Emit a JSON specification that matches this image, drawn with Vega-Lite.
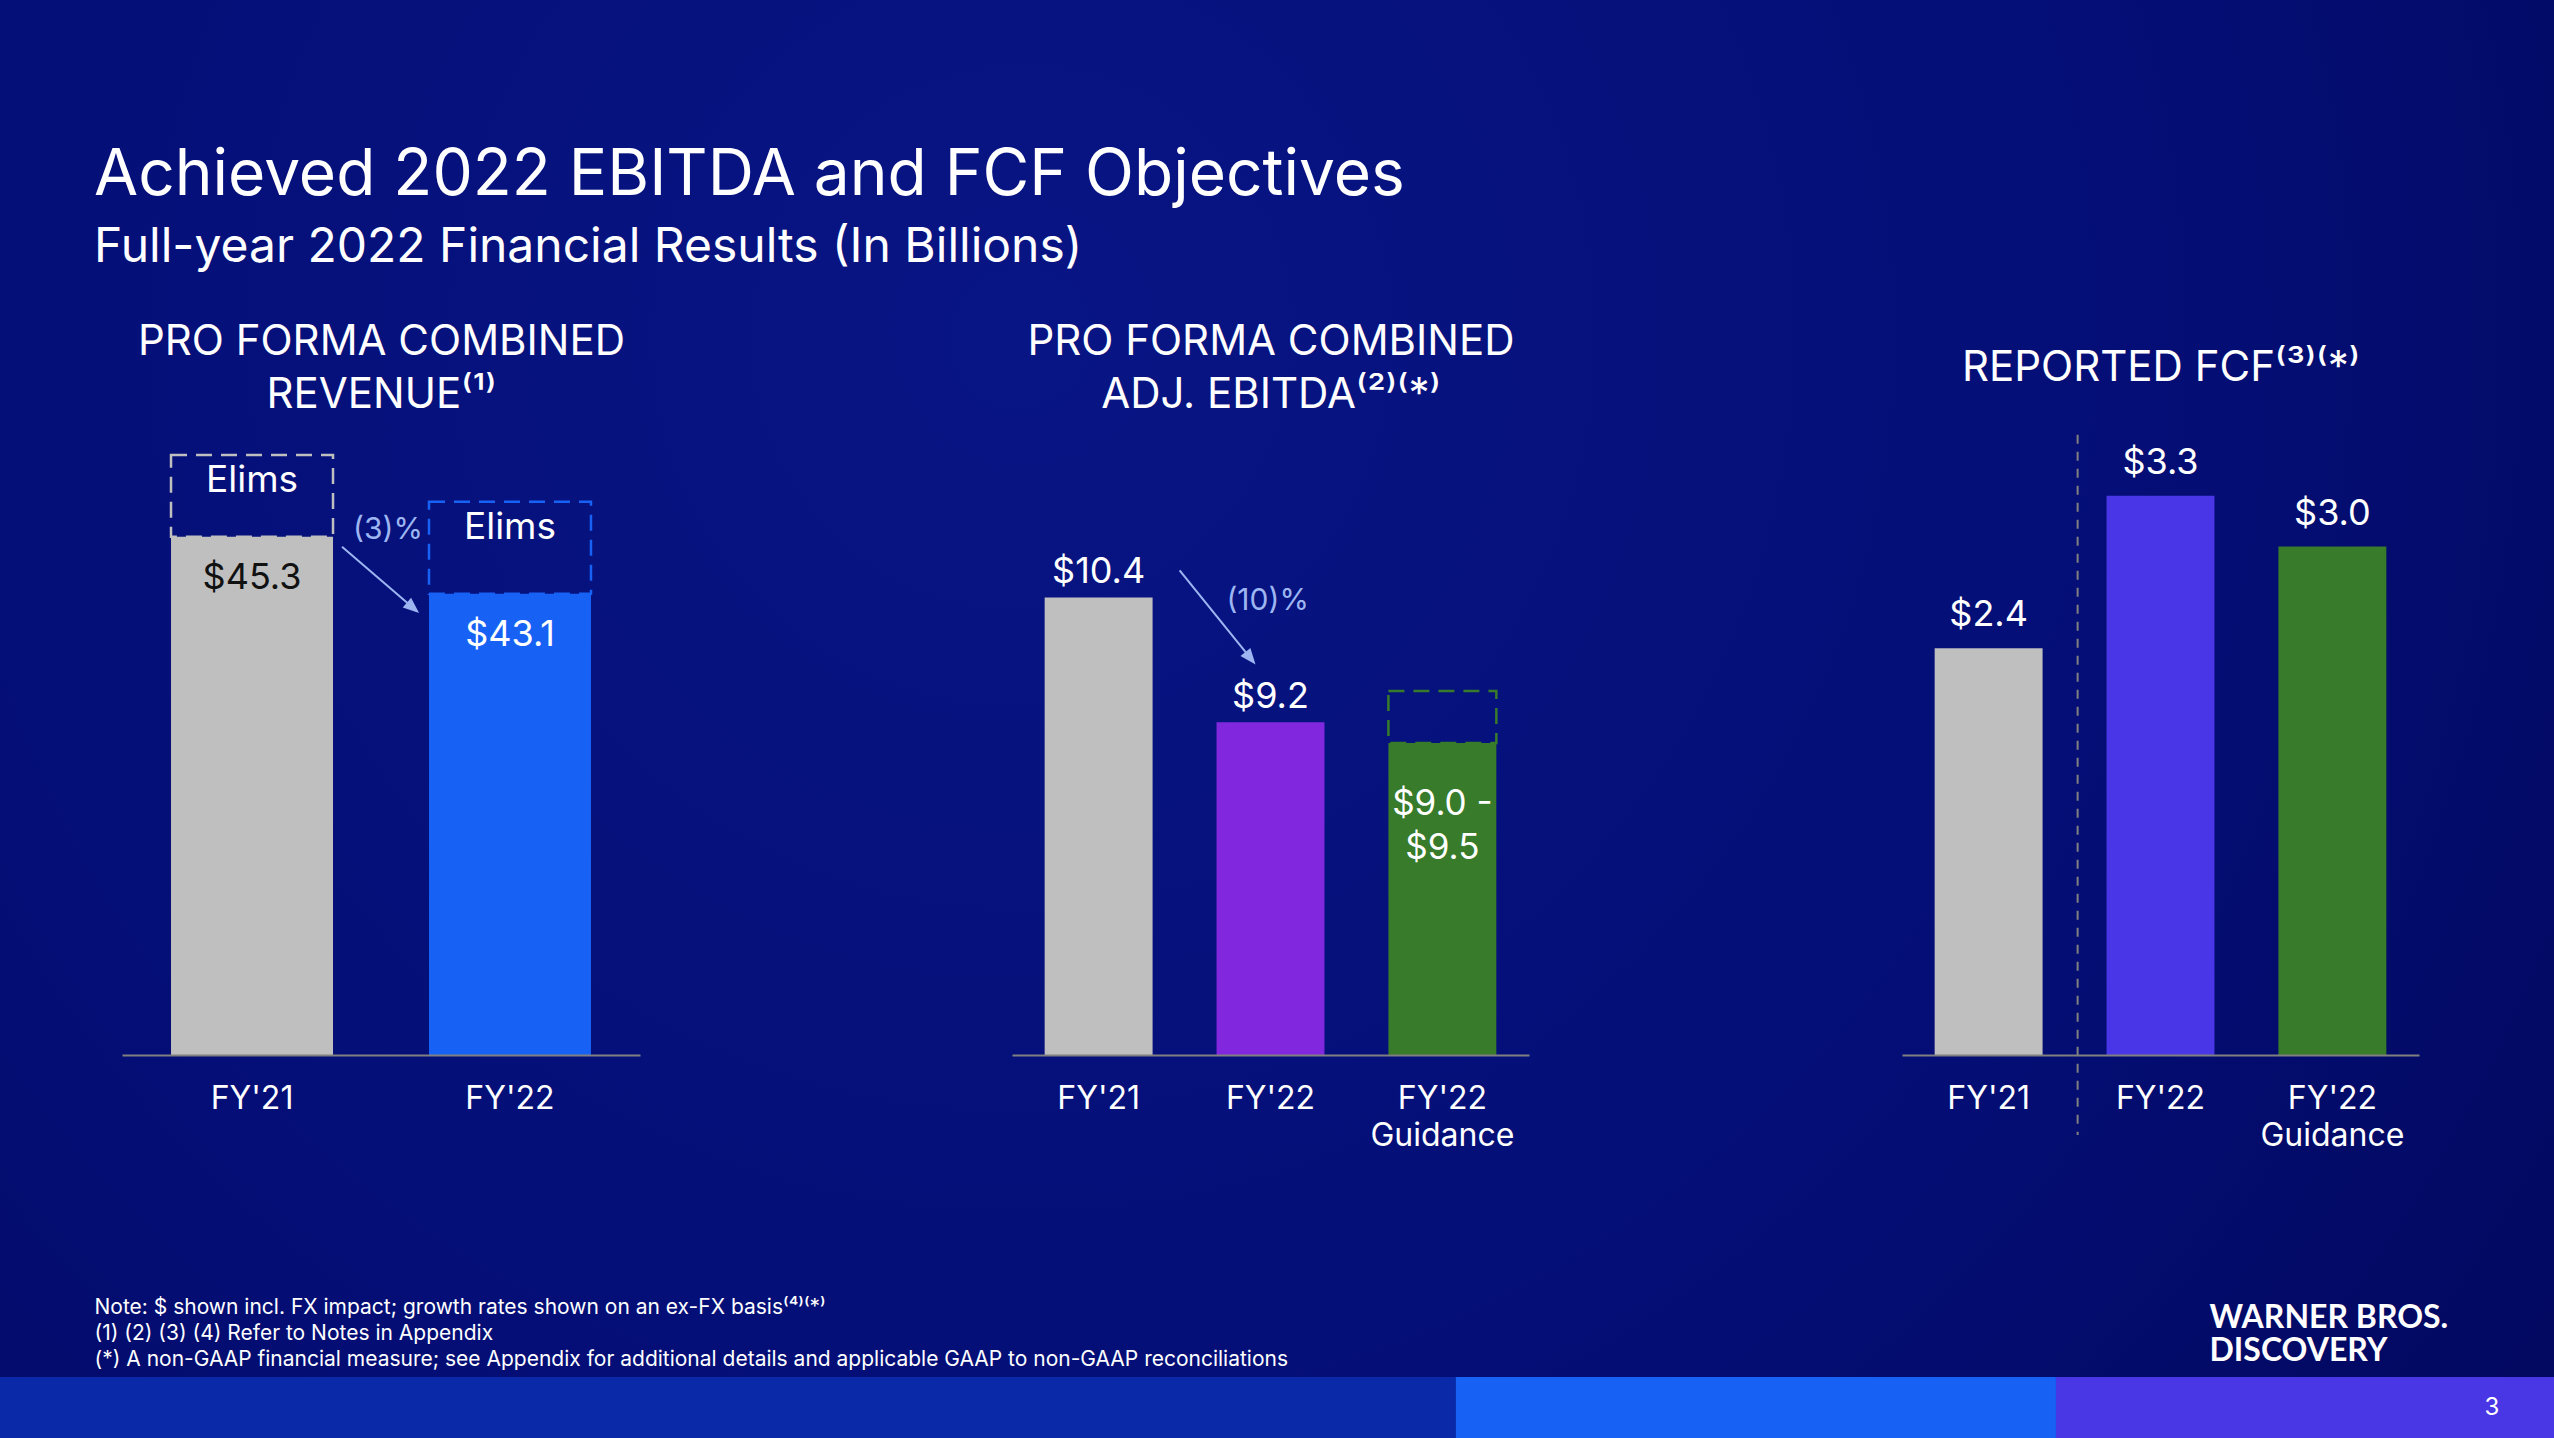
{
  "$schema": "https://vega.github.io/schema/vega-lite/v6.json",
  "width": 2554,
  "height": 1438,
  "autosize": {"type": "fit", "contains": "padding"},
  "padding": 0,
  "background": "#030a6b",
  "config": {
    "font": "Inter",
    "view": {"stroke": null},
    "axis": {"grid": false, "labelFont": "Inter", "titleFont": "Inter"}
  },
  "title": {
    "text": "Achieved 2022 EBITDA and FCF Objectives",
    "subtitle": "Full-year 2022 Financial Results (In Billions)",
    "anchor": "start",
    "frame": "group",
    "orient": "top",
    "offset": -272,
    "dx": 94,
    "font": "Inter",
    "fontSize": 64,
    "fontWeight": "normal",
    "color": "#ffffff",
    "subtitleFont": "Inter",
    "subtitleFontSize": 48,
    "subtitleColor": "#ffffff",
    "subtitlePadding": 16
  },
  "datasets": {
    "canvas": [{"slide": 3}],
    "revenue": [
      {"cat": "FY'21", "value": 45.3, "gross": 48.46, "label": "$45.3"},
      {"cat": "FY'22", "value": 43.1, "gross": 46.65, "label": "$43.1"}
    ],
    "revenueChange": [
      {"from": "FY'21", "to": "FY'22", "from_value": 45.3, "to_value": 43.1, "change": "(3)%"}
    ],
    "ebitda": [
      {"cat": "FY'21", "value": 10.4, "label": "$10.4"},
      {"cat": "FY'22", "value": 9.2, "label": "$9.2"},
      {"cat": "FY'22 Guidance", "value": 9.0, "high": 9.5, "label": "$9.0 -\n$9.5"}
    ],
    "ebitdaChange": [
      {"from": "FY'21", "to": "FY'22", "from_value": 10.4, "to_value": 9.2, "change": "(10)%"}
    ],
    "fcf": [
      {"cat": "FY'21", "value": 2.4, "label": "$2.4"},
      {"cat": "FY'22", "value": 3.3, "label": "$3.3"},
      {"cat": "FY'22 Guidance", "value": 3.0, "label": "$3.0"}
    ],
    "footer": [
      {"page": "3", "segment": "1", "share": 57.0},
      {"page": "3", "segment": "2", "share": 23.5},
      {"page": "3", "segment": "3", "share": 19.5}
    ]
  },
  "layer": [
    {
      "data": {"name": "canvas"},
      "mark": {
        "type": "rect",
        "fill": {
          "gradient": "radial",
          "x1": 0.4, "y1": 0.35, "r1": 0,
          "x2": 0.4, "y2": 0.35, "r2": 0.8,
          "stops": [
            {"offset": 0, "color": "#081584"},
            {"offset": 0.55, "color": "#040e76"},
            {"offset": 1, "color": "#02075a"}
          ]
        }
      },
      "encoding": {}
    },
    {
      "data": {"name": "revenue"},
      "layer": [
        {
          "mark": {"type": "bar"},
          "encoding": {
            "x": {
              "field": "cat", "type": "nominal",
              "scale": {"domain": ["FY'21", "FY'22"], "range": [122, 640], "paddingInner": 0.372, "paddingOuter": 0.19},
              "axis": {
                "orient": "bottom", "offset": -383, "zindex": 2,
                "domainColor": "#808080", "domainWidth": 2,
                "ticks": false, "tickSize": 0,
                "labelAngle": 0, "labelFontSize": 32, "labelColor": "#ffffff", "labelPadding": 28,
                "labelOverlap": false,
                "title": ["PRO FORMA COMBINED", "REVENUE⁽¹⁾"],
                "titleY": -701, "titleBaseline": "alphabetic",
                "titleFontSize": 42, "titleFontWeight": "normal", "titleColor": "#ffffff", "titleLineHeight": 53
              }
            },
            "y": {
              "field": "value", "type": "quantitative",
              "scale": {"domain": [25.3, 50], "range": [1055, 415], "clamp": true, "zero": false, "nice": false},
              "axis": null
            },
            "y2": {"datum": 0},
            "color": {
              "field": "cat", "type": "nominal",
              "scale": {"domain": ["FY'21", "FY'22"], "range": ["#bfbfbf", "#1762f5"]},
              "legend": null
            }
          }
        },
        {
          "mark": {"type": "bar", "filled": false, "strokeWidth": 2.5, "strokeDash": [16, 9]},
          "encoding": {
            "x": {"field": "cat", "type": "nominal"},
            "y": {"field": "value", "type": "quantitative", "axis": null},
            "y2": {"field": "gross"},
            "color": {"field": "cat", "type": "nominal", "legend": null}
          }
        },
        {
          "mark": {"type": "text", "text": "Elims", "baseline": "alphabetic", "dy": 37, "fontSize": 37, "color": "#ffffff"},
          "encoding": {
            "x": {"field": "cat", "type": "nominal"},
            "y": {"field": "gross", "type": "quantitative", "axis": null}
          }
        },
        {
          "mark": {"type": "text", "baseline": "alphabetic", "dy": 52, "fontSize": 36},
          "encoding": {
            "x": {"field": "cat", "type": "nominal"},
            "y": {"field": "value", "type": "quantitative", "axis": null},
            "text": {"field": "label"},
            "color": {"condition": {"test": "datum.value > 44", "value": "#111111"}, "value": "#ffffff"}
          }
        },
        {
          "data": {"name": "revenueChange"},
          "mark": {"type": "rule", "color": "#9db6f2", "strokeWidth": 2, "xOffset": 90, "yOffset": 10, "x2Offset": -97, "y2Offset": 14},
          "encoding": {
            "x": {"field": "from", "type": "nominal"},
            "x2": {"field": "to"},
            "y": {"field": "from_value", "type": "quantitative", "axis": null},
            "y2": {"field": "to_value"}
          }
        },
        {
          "data": {"name": "revenueChange"},
          "mark": {"type": "point", "shape": "M0,-1L0.8,1L-0.8,1Z", "filled": true, "opacity": 1, "size": 256, "color": "#9db6f2", "angle": 130.6, "xOffset": -97, "yOffset": 14},
          "encoding": {
            "x": {"field": "to", "type": "nominal"},
            "y": {"field": "to_value", "type": "quantitative", "axis": null}
          }
        },
        {
          "data": {"name": "revenueChange"},
          "mark": {"type": "text", "color": "#9db6f2", "fontSize": 30, "baseline": "alphabetic", "dx": 136, "dy": 2},
          "encoding": {
            "x": {"field": "from", "type": "nominal"},
            "y": {"field": "from_value", "type": "quantitative", "axis": null},
            "text": {"field": "change"}
          }
        }
      ]
    },
    {
      "data": {"name": "ebitda"},
      "layer": [
        {
          "mark": {"type": "bar"},
          "encoding": {
            "x": {
              "field": "cat", "type": "nominal",
              "scale": {"domain": ["FY'21", "FY'22", "FY'22 Guidance"], "range": [1012, 1529], "paddingInner": 0.372, "paddingOuter": 0.19},
              "axis": {
                "orient": "bottom", "offset": -383, "zindex": 2,
                "domainColor": "#808080", "domainWidth": 2,
                "ticks": false, "tickSize": 0,
                "labelAngle": 0, "labelFontSize": 32, "labelColor": "#ffffff", "labelPadding": 28,
                "labelOverlap": false, "labelLineHeight": 37,
                "labelExpr": "indexof(datum.label, 'Guidance') > 0 ? split(datum.label, ' ') : datum.label",
                "title": ["PRO FORMA COMBINED", "ADJ. EBITDA⁽²⁾⁽*⁾"],
                "titleY": -701, "titleBaseline": "alphabetic",
                "titleFontSize": 42, "titleFontWeight": "normal", "titleColor": "#ffffff", "titleLineHeight": 53
              }
            },
            "y": {
              "field": "value", "type": "quantitative",
              "scale": {"domain": [6, 11], "range": [1055, 535], "clamp": true, "zero": false, "nice": false},
              "axis": null
            },
            "y2": {"datum": 0},
            "color": {
              "field": "cat", "type": "nominal",
              "scale": {"domain": ["FY'21", "FY'22", "FY'22 Guidance"], "range": ["#bfbfbf", "#8128df", "#377b2b"]},
              "legend": null
            }
          }
        },
        {
          "transform": [{"filter": "isValid(datum.high)"}],
          "mark": {"type": "bar", "filled": false, "strokeWidth": 2.5, "strokeDash": [16, 9]},
          "encoding": {
            "x": {"field": "cat", "type": "nominal"},
            "y": {"field": "value", "type": "quantitative", "axis": null},
            "y2": {"field": "high"},
            "color": {"field": "cat", "type": "nominal", "legend": null}
          }
        },
        {
          "transform": [{"filter": "!isValid(datum.high)"}],
          "mark": {"type": "text", "baseline": "alphabetic", "dy": -14, "fontSize": 36, "color": "#ffffff"},
          "encoding": {
            "x": {"field": "cat", "type": "nominal"},
            "y": {"field": "value", "type": "quantitative", "axis": null},
            "text": {"field": "label"}
          }
        },
        {
          "transform": [{"filter": "isValid(datum.high)"}],
          "mark": {"type": "text", "baseline": "alphabetic", "dy": 72, "fontSize": 35, "lineHeight": 44, "lineBreak": "\n", "color": "#ffffff"},
          "encoding": {
            "x": {"field": "cat", "type": "nominal"},
            "y": {"field": "value", "type": "quantitative", "axis": null},
            "text": {"field": "label"}
          }
        },
        {
          "data": {"name": "ebitdaChange"},
          "mark": {"type": "rule", "color": "#9db6f2", "strokeWidth": 2, "xOffset": 81, "yOffset": -27, "x2Offset": -20, "y2Offset": -64},
          "encoding": {
            "x": {"field": "from", "type": "nominal"},
            "x2": {"field": "to"},
            "y": {"field": "from_value", "type": "quantitative", "axis": null},
            "y2": {"field": "to_value"}
          }
        },
        {
          "data": {"name": "ebitdaChange"},
          "mark": {"type": "point", "shape": "M0,-1L0.8,1L-0.8,1Z", "filled": true, "opacity": 1, "size": 256, "color": "#9db6f2", "angle": 140.8, "xOffset": -20, "yOffset": -64},
          "encoding": {
            "x": {"field": "to", "type": "nominal"},
            "y": {"field": "to_value", "type": "quantitative", "axis": null}
          }
        },
        {
          "data": {"name": "ebitdaChange"},
          "mark": {"type": "text", "color": "#9db6f2", "fontSize": 30, "baseline": "alphabetic", "dx": 169, "dy": 13},
          "encoding": {
            "x": {"field": "from", "type": "nominal"},
            "y": {"field": "from_value", "type": "quantitative", "axis": null},
            "text": {"field": "change"}
          }
        }
      ]
    },
    {
      "data": {"name": "fcf"},
      "layer": [
        {
          "mark": {"type": "bar"},
          "encoding": {
            "x": {
              "field": "cat", "type": "nominal",
              "scale": {"domain": ["FY'21", "FY'22", "FY'22 Guidance"], "range": [1902, 2419], "paddingInner": 0.372, "paddingOuter": 0.19},
              "axis": {
                "orient": "bottom", "offset": -383, "zindex": 2,
                "domainColor": "#808080", "domainWidth": 2,
                "ticks": false, "tickSize": 0,
                "labelAngle": 0, "labelFontSize": 32, "labelColor": "#ffffff", "labelPadding": 28,
                "labelOverlap": false, "labelLineHeight": 37,
                "labelExpr": "indexof(datum.label, 'Guidance') > 0 ? split(datum.label, ' ') : datum.label",
                "title": "REPORTED FCF⁽³⁾⁽*⁾",
                "titleY": -675, "titleBaseline": "alphabetic",
                "titleFontSize": 42, "titleFontWeight": "normal", "titleColor": "#ffffff"
              }
            },
            "y": {
              "field": "value", "type": "quantitative",
              "scale": {"domain": [0, 4], "range": [1055, 377], "clamp": true, "nice": false},
              "axis": null
            },
            "y2": {"datum": 0},
            "color": {
              "field": "cat", "type": "nominal",
              "scale": {"domain": ["FY'21", "FY'22", "FY'22 Guidance"], "range": ["#bfbfbf", "#4936e6", "#377b2b"]},
              "legend": null
            }
          }
        },
        {
          "transform": [{"filter": "datum.cat == \"FY'21\""}],
          "mark": {"type": "rule", "color": "#808080", "strokeWidth": 2, "strokeDash": [9, 8], "xOffset": 89, "y2Offset": 80},
          "encoding": {
            "x": {"field": "cat", "type": "nominal"},
            "y": {"datum": 3.66, "type": "quantitative", "axis": null},
            "y2": {"datum": 0}
          }
        },
        {
          "mark": {"type": "text", "baseline": "alphabetic", "dy": -22, "fontSize": 36, "color": "#ffffff"},
          "encoding": {
            "x": {"field": "cat", "type": "nominal"},
            "y": {"field": "value", "type": "quantitative", "axis": null},
            "text": {"field": "label"}
          }
        }
      ]
    },
    {
      "data": {"name": "footer"},
      "mark": {"type": "bar"},
      "encoding": {
        "x": {
          "field": "share", "type": "quantitative", "stack": "zero",
          "scale": {"domain": [0, 100], "range": [0, 2554], "nice": false},
          "axis": {
            "orient": "bottom", "offset": -61, "zindex": 2,
            "domain": false, "ticks": false, "labels": false, "grid": false,
            "title": [
              "Note: $ shown incl. FX impact; growth rates shown on an ex-FX basis⁽⁴⁾⁽*⁾",
              "(1) (2) (3) (4) Refer to Notes in Appendix",
              "(*) A non-GAAP financial measure; see Appendix for additional details and applicable GAAP to non-GAAP reconciliations"
            ],
            "titleX": 94, "titleY": -64, "titleAlign": "left", "titleBaseline": "alphabetic",
            "titleFontSize": 21, "titleFontWeight": "normal", "titleColor": "#ffffff", "titleLineHeight": 26
          }
        },
        "y": {
          "field": "page", "type": "nominal",
          "scale": {"range": [1377, 1438], "paddingInner": 0, "paddingOuter": 0},
          "axis": {
            "orient": "right", "offset": -70, "zindex": 2,
            "domain": false, "ticks": false, "tickSize": 0,
            "labelPadding": 0, "labelFontSize": 24, "labelColor": "#ffffff", "labelAlign": "left",
            "title": ["WARNER BROS.", "DISCOVERY"],
            "titleAngle": 0, "titleX": -275, "titleY": 1327,
            "titleAlign": "left", "titleBaseline": "alphabetic",
            "titleFont": "Lato", "titleFontWeight": "bold", "titleFontSize": 32, "titleLineHeight": 33, "titleColor": "#ffffff"
          }
        },
        "color": {
          "field": "segment", "type": "nominal",
          "scale": {"domain": ["1", "2", "3"], "range": ["#0a29a8", "#1762f5", "#4937e6"]},
          "legend": null
        }
      }
    }
  ],
  "resolve": {
    "scale": {"x": "independent", "y": "independent", "color": "independent"},
    "axis": {"x": "independent", "y": "independent"}
  }
}
